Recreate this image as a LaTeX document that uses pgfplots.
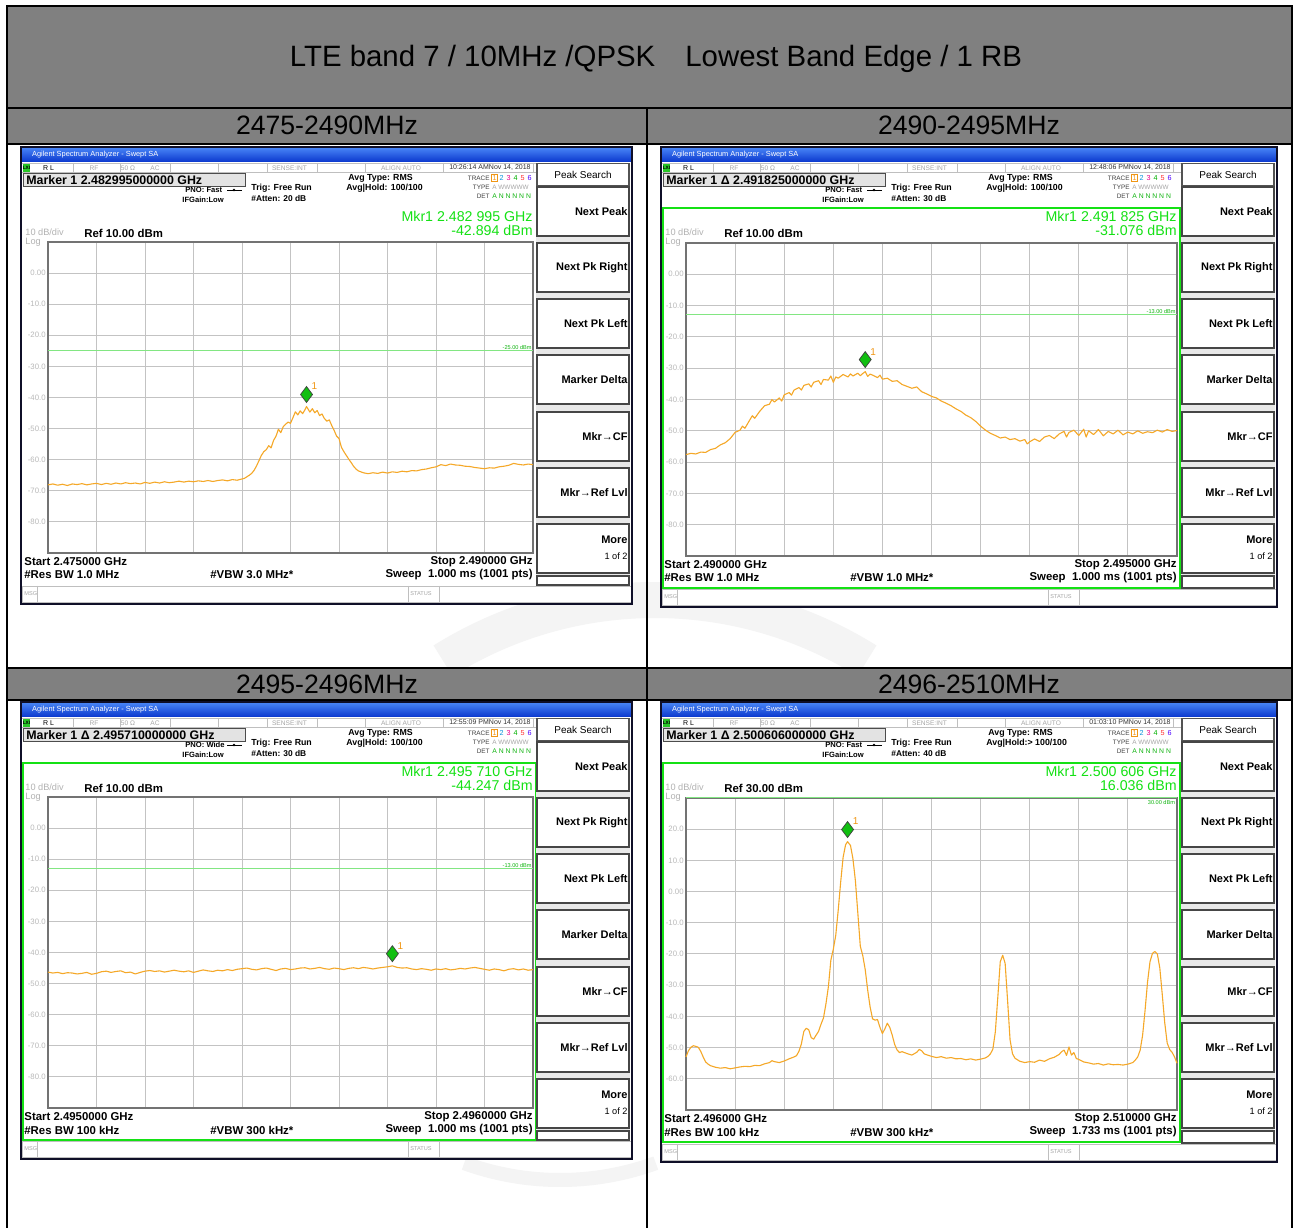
\documentclass[border=0pt]{standalone}
\usepackage{fontspec}
\setmainfont{Liberation Sans}
\usepackage{pgfplots}
\pgfplotsset{compat=1.18}
\definecolor{hdr}{RGB}{128,128,128}
\definecolor{barA}{RGB}{70,130,245}
\definecolor{barB}{RGB}{10,55,205}
\definecolor{frmc}{RGB}{15,15,40}
\definecolor{lxig}{RGB}{40,200,40}
\definecolor{mkrg}{RGB}{20,225,20}
\definecolor{limc}{RGB}{130,230,130}
\definecolor{trc}{RGB}{245,168,40}
\definecolor{mko}{RGB}{240,150,20}
\definecolor{gridc}{RGB}{195,195,195}
\definecolor{boxc}{RGB}{115,115,115}
\definecolor{wmk}{RGB}{244,244,244}
\newcommand{\fs}[1]{\fontsize{#1pt}{#1pt}\selectfont}

\newcommand{\screen}[7]{%
\begin{scope}[shift={(#1,-#2)}]
\fill[white] (0,0) rectangle (#3,-#4);
\shade[top color=barA,bottom color=barB] (1,-1) rectangle ({#3-1},-15);
\node[anchor=west,text=white,font=\fs{3.7}] at (4,-8) {Agilent Spectrum Analyzer - Swept SA};
% status row
\draw[line width=0.25pt,draw=gray!50] (1,-16) -- ({#3-96},-16);
\draw[line width=0.25pt,draw=gray!50] (1,-25.5) -- ({#3-96},-25.5);
\foreach \sx in {52,99,149,197,246,296,344,422,512}{\draw[line width=0.25pt,draw=gray!50] (\sx,-16) -- (\sx,-25.5);}
\fill[lxig] (2,-16.8) rectangle (9,-24.8);
\node[font=\fs{2.4}\bfseries] at (5.5,-20.8) {LXI};
\node[anchor=west,font=\fs{3.5}] at (15,-20.8) {R L};
\node[font=\fs{3.3},text=gray!70] at (73,-20.8) {RF};
\node[font=\fs{3.3},text=gray!70] at (107,-20.8) {50 Ω};
\node[font=\fs{3.3},text=gray!70] at (134,-20.8) {AC};
\node[anchor=east,font=\fs{3.3},text=gray!70] at (293,-20.8) {SENSE:INT};
\node[anchor=east,font=\fs{3.3},text=gray!70] at (407,-20.8) {ALIGN AUTO};
\node[anchor=east,font=\fs{3.5},text=black!80,inner sep=0.5pt] at (511,-20.8) {\sTime};
% marker box
\draw[fill=gray!22,draw=gray!60!black,line width=0.4pt] (2,-26.5) rectangle (224,-39);
\node[anchor=west,font=\bfseries\fs{6.2},inner sep=1pt] at (3,-32.8) {\sMarker};
\node[anchor=west,font=\bfseries\fs{3.8},inner sep=0pt] at (164,-43) {\sPNO};
\draw[line width=0.4pt] (206,-43) -- (221,-43);
\fill (213,-43) circle (1.3);
\node[anchor=west,font=\bfseries\fs{3.8},inner sep=0pt] at (161,-53) {IFGain:Low};
\node[anchor=west,font=\bfseries\fs{4.4},inner sep=0pt] at (230,-41) {Trig: Free Run};
\node[anchor=west,font=\bfseries\fs{4.2},inner sep=0pt] at (230,-52) {\sAtten};
\node[anchor=west,font=\bfseries\fs{4.4},inner sep=0pt] at (327,-31) {Avg Type: RMS};
\node[anchor=west,font=\bfseries\fs{4.4},inner sep=0pt] at (325,-41) {\sHold};
% trace table
\node[anchor=east,font=\fs{3.2},text=black!75,inner sep=0pt] at (469,-31) {TRACE};
\node[anchor=east,font=\fs{3.2},text=black!75,inner sep=0pt] at (469,-40) {TYPE};
\node[anchor=east,font=\fs{3.2},text=black!75,inner sep=0pt] at (469,-49) {DET};
\draw[draw=mko,line width=0.3pt] (470.5,-27.5) rectangle (476.5,-34.5);
\node[font=\fs{3.6},text=mko,inner sep=0pt] at (473.5,-31) {1};
\node[font=\fs{3.6},text=cyan!80!blue,inner sep=0pt] at (480.5,-31) {2};
\node[font=\fs{3.6},text=magenta,inner sep=0pt] at (487.5,-31) {3};
\node[font=\fs{3.6},text=green!70!black,inner sep=0pt] at (494.5,-31) {4};
\node[font=\fs{3.6},text=red!80,inner sep=0pt] at (501.5,-31) {5};
\node[font=\fs{3.6},text=blue!70!magenta,inner sep=0pt] at (508.5,-31) {6};
\node[anchor=west,font=\fs{3.2},text=gray!70,inner sep=0pt] at (471,-40) {A WWWWW};
\node[anchor=west,font=\fs{3.4},text=mkrg!80!black,inner sep=0pt] at (471,-49) {A N N N N N};
% marker readout
\node[anchor=east,font=\fs{7.1},text=mkrg,inner sep=0pt] at (#5,-69) {\sMkrF};
\node[anchor=east,font=\fs{7.1},text=mkrg,inner sep=0pt] at (#5,-83) {\sMkrV};
\node[anchor=west,font=\fs{4.6},text=gray!60,inner sep=0pt] at (4,-85) {10 dB/div};
\node[anchor=west,font=\fs{4.6},text=gray!60,inner sep=0pt] at (4,-95) {Log};
\node[anchor=west,font=\bfseries\fs{5.7},inner sep=0pt] at (63,-86) {\sRef};
% bottom text
\node[anchor=west,font=\bfseries\fs{5.7},inner sep=0pt] at (3,{-#6-9}) {\sStart};
\node[anchor=west,font=\bfseries\fs{5.7},inner sep=0pt] at (3,{-#6-22}) {\sRBW};
\node[anchor=west,font=\bfseries\fs{5.7},inner sep=0pt] at (189,{-#6-22}) {\sVBW};
\node[anchor=east,font=\bfseries\fs{5.7},inner sep=0pt] at (#5,{-#6-9}) {\sStop};
\node[anchor=east,font=\bfseries\fs{5.7},inner sep=0pt] at (#5,{-#6-22}) {\sSweep};
\ifnum#7=1 \draw[draw=mkrg,line width=1pt] (2,-61) rectangle ({#5+3},{-#6-32});\fi
% msg bar
\draw[fill=white,draw=gray!50,line width=0.3pt] (1,{-#4+18}) rectangle ({#3-1},{-#4+2});
\draw[draw=gray!50,line width=0.3pt] (16,{-#4+18}) -- (16,{-#4+2});
\draw[draw=gray!50,line width=0.3pt] (387,{-#4+18}) -- (387,{-#4+2});
\draw[draw=gray!50,line width=0.3pt] (418,{-#4+18}) -- (418,{-#4+2});
\node[anchor=west,font=\fs{2.8},text=gray!70,inner sep=0pt] at (3,{-#4+10}) {MSG};
\node[anchor=west,font=\fs{2.8},text=gray!70,inner sep=0pt] at (389,{-#4+10}) {STATUS};
% softkeys
\fill[gray!18] ({#3-96},-16) rectangle ({#3-2},{-#4+19});
\draw[fill=white,draw=gray!65!black,line width=0.6pt] ({#3-95},-16.5) rectangle ({#3-3},-39);
\node[font=\fs{5}] at ({#3-49},-27.5) {Peak Search};
\foreach \ya/\yb/\lab in {40/89/Next Peak,96/145/Next Pk Right,152/201/Next Pk Left,208/257/Marker Delta,265/314/Mkr→CF,321/370/Mkr→Ref Lvl}{%
  \draw[fill=white,draw=gray!55!black,line width=0.9pt] ({#3-95},-\ya) rectangle ({#3-3},-\yb);
  \node[anchor=east,font=\bfseries\fs{5.5},inner sep=0pt] at ({#3-4},{-(\ya+\yb)/2}) {\lab};}
\draw[fill=white,draw=gray!55!black,line width=0.9pt] ({#3-95},-377) rectangle ({#3-3},-426);
\node[anchor=east,font=\bfseries\fs{5.5},inner sep=0pt] at ({#3-4},-393) {More};
\node[anchor=east,font=\fs{4.6},inner sep=0pt] at ({#3-4},-409) {1 of 2};
\draw[fill=white,draw=gray!55!black,line width=0.6pt] ({#3-95},-429) rectangle ({#3-3},{-#4+19});
\draw[draw=frmc,line width=1.3pt] (0,0) rectangle (#3,-#4);
\end{scope}}

\pgfplotsset{sa/.style={scale only axis, anchor=south west, xmin=0, xmax=10,
  xtick={0,1,...,10}, xticklabels={}, grid=major,
  major grid style={draw=gridc, line width=0.5pt},
  axis line style={draw=boxc, line width=0.9pt},
  major tick length=0pt, clip=false,
  yticklabel style={font=\fs{3.9}, text=gray!55, inner sep=1pt},
  axis background/.style={fill=white}},
  trace/.style={trc, line width=0.55pt, line join=round},
  mk/.style={only marks, mark=diamond*, mark size=4pt,
    mark options={fill=mkrg!85!black, draw=black!75, line width=0.35pt, yshift=6pt}}}

\begin{document}
\begin{tikzpicture}[x=0.5pt,y=0.5pt]
\fill[white] (0,0) rectangle (1298,-1228);
% faint watermark
\draw[wmk, line width=18pt] (655,-1000) ++(58:400) arc (58:122:400);
\draw[wmk, line width=7pt] (560,-900) ++(250:280) arc (250:290:280);
% table
\fill[hdr] (7,-6) rectangle (1292,-144);
\fill[hdr] (7,-668) rectangle (1292,-700);
\draw[line width=1.3pt] (7,-1228) -- (7,-6) -- (1292,-6) -- (1292,-1228);
\draw[line width=1.3pt] (7,-108) -- (1292,-108);
\draw[line width=1.3pt] (7,-144) -- (1292,-144);
\draw[line width=1.3pt] (7,-668) -- (1292,-668);
\draw[line width=1.3pt] (7,-700) -- (1292,-700);
\draw[line width=1.3pt] (647,-108) -- (647,-1228);
\node[font=\fs{14.7}] at (656,-59) {LTE band 7 / 10MHz /QPSK\hspace{15pt}Lowest Band Edge / 1 RB};
\node[font=\fs{13.3}] at (327,-125) {2475-2490MHz};
\node[font=\fs{13.3}] at (969,-125) {2490-2495MHz};
\node[font=\fs{13.3}] at (327,-684) {2495-2496MHz};
\node[font=\fs{13.3}] at (969,-684) {2496-2510MHz};

% ---------- screen 1 ----------
\def\sTime{10:26:14 AMNov 14, 2018}
\def\sMarker{Marker 1 2.482995000000 GHz}
\def\sPNO{PNO: Fast}
\def\sAtten{\#Atten: 20 dB}
\def\sHold{Avg|Hold: 100/100}
\def\sMkrF{Mkr1 2.482 995 GHz}
\def\sMkrV{-42.894 dBm}
\def\sRef{Ref 10.00 dBm}
\def\sStart{Start 2.475000 GHz}
\def\sStop{Stop 2.490000 GHz}
\def\sRBW{\#Res BW 1.0 MHz}
\def\sVBW{\#VBW 3.0 MHz*}
\def\sSweep{Sweep\ \ 1.000 ms (1001 pts)}
\screen{21}{147}{611}{457}{512}{406}{0}

% ---------- screen 2 ----------
\def\sTime{12:48:06 PMNov 14, 2018}
\def\sMarker{Marker 1 Δ 2.491825000000 GHz}
\def\sPNO{PNO: Fast}
\def\sAtten{\#Atten: 30 dB}
\def\sHold{Avg|Hold: 100/100}
\def\sMkrF{Mkr1 2.491 825 GHz}
\def\sMkrV{-31.076 dBm}
\def\sRef{Ref 10.00 dBm}
\def\sStart{Start 2.490000 GHz}
\def\sStop{Stop 2.495000 GHz}
\def\sRBW{\#Res BW 1.0 MHz}
\def\sVBW{\#VBW 1.0 MHz*}
\def\sSweep{Sweep\ \ 1.000 ms (1001 pts)}
\screen{661}{147}{616}{460}{516}{409}{1}

% ---------- screen 3 ----------
\def\sTime{12:55:09 PMNov 14, 2018}
\def\sMarker{Marker 1 Δ 2.495710000000 GHz}
\def\sPNO{PNO: Wide}
\def\sAtten{\#Atten: 30 dB}
\def\sHold{Avg|Hold: 100/100}
\def\sMkrF{Mkr1 2.495 710 GHz}
\def\sMkrV{-44.247 dBm}
\def\sRef{Ref 10.00 dBm}
\def\sStart{Start 2.4950000 GHz}
\def\sStop{Stop 2.4960000 GHz}
\def\sRBW{\#Res BW 100 kHz}
\def\sVBW{\#VBW 300 kHz*}
\def\sSweep{Sweep\ \ 1.000 ms (1001 pts)}
\screen{21}{702}{611}{457}{512}{406}{1}

% ---------- screen 4 ----------
\def\sTime{01:03:10 PMNov 14, 2018}
\def\sMarker{Marker 1 Δ 2.500606000000 GHz}
\def\sPNO{PNO: Fast}
\def\sAtten{\#Atten: 40 dB}
\def\sHold{Avg|Hold:> 100/100}
\def\sMkrF{Mkr1 2.500 606 GHz}
\def\sMkrV{16.036 dBm}
\def\sRef{Ref 30.00 dBm}
\def\sStart{Start 2.496000 GHz}
\def\sStop{Stop 2.510000 GHz}
\def\sRBW{\#Res BW 100 kHz}
\def\sVBW{\#VBW 300 kHz*}
\def\sSweep{Sweep\ \ 1.733 ms (1001 pts)}
\screen{661}{702}{616}{460}{516}{408}{1}

% ---------- axis 1 ----------
\begin{axis}[sa, at={(24pt,-276.5pt)}, width=242.5pt, height=155.5pt,
  ymin=-90, ymax=10, ytick={-80,-70,...,0},
  yticklabels={-80.0,-70.0,-60.0,-50.0,-40.0,-30.0,-20.0,-10.0,0.00}]
\addplot[limc, line width=0.5pt] coordinates {(0,-25) (10,-25)};
\node[anchor=south east, font=\fs{2.8}, text=mkrg!80!black, inner sep=0.5pt] at (axis cs:10,-25) {-25.00 dBm};
\addplot[trace] table {
0.00 -68.1
0.10 -67.8
0.20 -68.2
0.30 -67.9
0.40 -68.3
0.50 -67.8
0.60 -68.0
0.70 -67.7
0.80 -68.1
0.90 -67.8
1.00 -67.6
1.10 -68.0
1.20 -67.6
1.30 -67.9
1.40 -67.5
1.50 -67.8
1.60 -67.4
1.70 -67.7
1.80 -67.5
1.90 -67.8
2.00 -67.3
2.10 -67.6
2.20 -67.2
2.30 -67.5
2.40 -67.1
2.50 -67.4
2.60 -67.2
2.70 -66.9
2.80 -67.2
2.90 -66.9
3.00 -67.1
3.10 -66.8
3.20 -67.0
3.30 -66.7
3.40 -67.0
3.50 -66.7
3.60 -66.5
3.70 -66.8
3.80 -66.4
3.90 -66.6
4.00 -66.2
4.05 -66.0
4.10 -65.5
4.15 -65.0
4.20 -64.4
4.25 -63.4
4.30 -62.0
4.35 -60.3
4.40 -58.6
4.45 -57.4
4.50 -56.8
4.55 -55.5
4.60 -56.2
4.65 -53.8
4.70 -52.5
4.75 -50.2
4.80 -51.3
4.85 -49.4
4.90 -48.6
4.95 -47.9
5.00 -48.3
5.05 -46.5
5.10 -44.6
5.15 -45.6
5.20 -44.3
5.25 -45.2
5.30 -43.9
5.33 -42.9
5.40 -44.7
5.45 -43.6
5.50 -44.9
5.55 -44.2
5.60 -45.8
5.65 -45.3
5.70 -46.8
5.75 -47.6
5.80 -47.2
5.85 -49.0
5.90 -50.6
5.95 -52.4
6.00 -53.2
6.05 -56.0
6.10 -57.4
6.15 -58.6
6.20 -59.8
6.25 -60.9
6.30 -62.1
6.35 -63.0
6.40 -63.6
6.50 -64.2
6.60 -64.5
6.70 -64.2
6.80 -64.4
6.90 -64.0
7.00 -64.3
7.10 -63.9
7.20 -64.1
7.30 -63.7
7.40 -63.9
7.50 -63.5
7.60 -63.6
7.70 -63.2
7.80 -63.0
7.90 -62.6
8.00 -62.3
8.10 -61.6
8.20 -61.9
8.30 -61.4
8.40 -61.7
8.50 -61.8
8.60 -62.1
8.70 -62.2
8.80 -62.5
8.90 -62.7
9.00 -62.9
9.10 -62.6
9.20 -62.7
9.30 -62.3
9.40 -62.1
9.50 -61.8
9.60 -61.2
9.70 -61.5
9.80 -61.7
9.90 -61.4
10.00 -61.6
};
\addplot[mk] coordinates {(5.33,-42.894)};
\node[font=\fs{5}, text=mko, xshift=4pt, yshift=10pt] at (axis cs:5.33,-42.894) {1};
\end{axis}

% ---------- axis 2 ----------
\begin{axis}[sa, at={(343pt,-278pt)}, width=245.5pt, height=156.5pt,
  ymin=-90, ymax=10, ytick={-80,-70,...,0},
  yticklabels={-80.0,-70.0,-60.0,-50.0,-40.0,-30.0,-20.0,-10.0,0.00}]
\addplot[limc, line width=0.5pt] coordinates {(0,-13) (10,-13)};
\node[anchor=south east, font=\fs{2.8}, text=mkrg!80!black, inner sep=0.5pt] at (axis cs:10,-13) {-13.00 dBm};
\addplot[trace] table {
0.00 -57.6
0.10 -57.2
0.20 -57.4
0.30 -56.8
0.40 -56.9
0.50 -56.0
0.60 -55.6
0.70 -54.5
0.80 -53.8
0.90 -52.5
1.00 -50.5
1.10 -49.8
1.15 -48.5
1.20 -49.2
1.30 -46.5
1.35 -45.2
1.40 -46.0
1.50 -43.8
1.60 -42.0
1.70 -41.5
1.75 -40.0
1.80 -40.8
1.90 -39.5
1.95 -40.5
2.00 -38.5
2.10 -37.8
2.15 -38.6
2.20 -37.0
2.30 -36.2
2.35 -37.0
2.40 -35.5
2.50 -35.0
2.55 -36.0
2.60 -34.5
2.70 -34.0
2.75 -35.2
2.80 -33.6
2.90 -33.8
2.95 -32.5
3.00 -34.5
3.05 -32.8
3.10 -33.2
3.20 -32.0
3.30 -32.8
3.35 -31.8
3.40 -32.5
3.50 -31.6
3.55 -32.4
3.60 -31.7
3.65 -31.1
3.70 -32.6
3.75 -31.9
3.80 -32.2
3.90 -33.0
3.95 -32.2
4.00 -33.5
4.10 -33.2
4.20 -34.2
4.30 -34.0
4.40 -35.2
4.50 -35.8
4.60 -36.4
4.70 -36.0
4.80 -37.5
4.90 -38.2
5.00 -39.0
5.10 -39.5
5.20 -40.5
5.30 -41.2
5.40 -42.0
5.50 -43.0
5.60 -43.8
5.70 -45.0
5.80 -45.8
5.90 -47.0
6.00 -48.5
6.10 -49.8
6.20 -50.8
6.30 -51.5
6.40 -52.3
6.50 -52.0
6.60 -52.8
6.70 -52.5
6.80 -53.3
6.90 -52.8
6.95 -54.2
7.00 -53.5
7.10 -52.6
7.20 -53.4
7.30 -52.0
7.40 -51.5
7.50 -52.5
7.60 -51.0
7.70 -50.2
7.75 -52.0
7.80 -50.5
7.90 -49.8
8.00 -51.5
8.10 -49.5
8.15 -52.0
8.20 -50.0
8.30 -51.2
8.40 -49.6
8.50 -51.6
8.60 -50.2
8.70 -51.0
8.80 -49.8
8.90 -51.3
9.00 -50.4
9.10 -51.0
9.20 -50.0
9.30 -50.8
9.40 -50.3
9.50 -50.6
9.60 -49.8
9.70 -50.4
9.80 -49.6
9.90 -50.2
10.00 -49.9
};
\addplot[mk] coordinates {(3.65,-31.076)};
\node[font=\fs{5}, text=mko, xshift=4pt, yshift=10pt] at (axis cs:3.65,-31.076) {1};
\end{axis}

% ---------- axis 3 ----------
\begin{axis}[sa, at={(24pt,-554pt)}, width=242.5pt, height=155.5pt,
  ymin=-90, ymax=10, ytick={-80,-70,...,0},
  yticklabels={-80.0,-70.0,-60.0,-50.0,-40.0,-30.0,-20.0,-10.0,0.00}]
\addplot[limc, line width=0.5pt] coordinates {(0,-13) (10,-13)};
\node[anchor=south east, font=\fs{2.8}, text=mkrg!80!black, inner sep=0.5pt] at (axis cs:10,-13) {-13.00 dBm};
\addplot[trace] table {
0.0 -46.3
0.1 -46.6
0.2 -46.4
0.3 -46.8
0.4 -46.5
0.5 -46.6
0.6 -46.9
0.7 -46.7
0.8 -46.4
0.9 -47.0
1.0 -46.7
1.1 -46.2
1.2 -46.0
1.3 -46.4
1.4 -46.1
1.5 -45.9
1.6 -46.5
1.7 -46.3
1.8 -46.9
1.9 -46.4
2.0 -46.0
2.1 -45.8
2.2 -46.1
2.3 -45.9
2.4 -46.3
2.5 -46.0
2.6 -45.7
2.7 -46.0
2.8 -46.2
2.9 -45.9
3.0 -46.4
3.1 -46.0
3.2 -45.6
3.3 -45.9
3.4 -46.1
3.5 -45.7
3.6 -45.9
3.7 -45.5
3.8 -45.8
3.9 -45.4
4.0 -45.2
4.1 -45.0
4.2 -45.4
4.3 -45.6
4.4 -45.2
4.5 -45.0
4.6 -45.4
4.7 -45.8
4.8 -45.3
4.9 -45.1
5.0 -45.5
5.1 -45.3
5.2 -45.0
5.3 -44.9
5.4 -45.3
5.5 -45.1
5.6 -44.8
5.7 -45.2
5.8 -45.4
5.9 -45.0
6.0 -45.2
6.1 -45.5
6.2 -45.1
6.3 -44.9
6.4 -45.2
6.5 -44.8
6.6 -45.0
6.7 -45.3
6.8 -45.0
6.9 -44.8
7.0 -44.6
7.1 -44.3
7.2 -44.8
7.3 -45.0
7.4 -44.9
7.5 -45.3
7.6 -45.5
7.7 -45.2
7.8 -45.4
7.9 -45.7
8.0 -45.3
8.1 -45.5
8.2 -45.2
8.3 -45.6
8.4 -45.4
8.5 -45.1
8.6 -45.3
8.7 -45.0
8.8 -44.8
8.9 -45.1
9.0 -45.4
9.1 -45.7
9.2 -45.3
9.3 -45.5
9.4 -45.9
9.5 -45.4
9.6 -45.2
9.7 -45.6
9.8 -45.3
9.9 -45.7
10.0 -45.5
};
\addplot[mk] coordinates {(7.1,-44.247)};
\node[font=\fs{5}, text=mko, xshift=4pt, yshift=10pt] at (axis cs:7.1,-44.247) {1};
\end{axis}

% ---------- axis 4 ----------
\begin{axis}[sa, at={(343pt,-555pt)}, width=245.5pt, height=156pt,
  ymin=-70, ymax=30, ytick={-60,-50,...,20},
  yticklabels={-60.0,-50.0,-40.0,-30.0,-20.0,-10.0,0.00,10.0,20.0}]
\addplot[limc, line width=0.5pt] coordinates {(0,30) (10,30)};
\node[anchor=north east, font=\fs{2.8}, text=mkrg!80!black, inner sep=0.8pt] at (axis cs:10,30) {30.00 dBm};
\addplot[trace] table {
0.00 -53.0
0.05 -51.0
0.10 -49.9
0.15 -49.4
0.20 -49.6
0.25 -49.9
0.30 -51.2
0.35 -53.0
0.40 -54.6
0.45 -55.3
0.50 -55.8
0.60 -56.3
0.70 -56.6
0.80 -56.4
0.90 -56.8
1.00 -56.5
1.10 -56.2
1.20 -56.0
1.30 -56.1
1.40 -55.7
1.50 -55.8
1.60 -55.2
1.70 -54.8
1.75 -54.2
1.80 -54.5
1.90 -54.8
2.00 -54.3
2.10 -53.6
2.20 -53.0
2.25 -52.6
2.30 -51.2
2.35 -48.8
2.40 -44.8
2.45 -43.8
2.50 -44.3
2.55 -46.8
2.60 -47.3
2.65 -46.0
2.70 -44.8
2.75 -42.5
2.80 -40.5
2.85 -36.0
2.90 -30.5
2.95 -22.0
3.00 -18.5
3.05 -14.0
3.10 -6.0
3.15 3.0
3.20 11.0
3.25 15.0
3.29 16.0
3.35 14.8
3.40 10.5
3.45 3.5
3.50 -7.0
3.55 -17.5
3.60 -20.5
3.65 -25.0
3.70 -31.5
3.75 -37.0
3.80 -40.8
3.85 -41.2
3.90 -41.0
3.95 -43.5
4.00 -45.5
4.05 -44.0
4.10 -42.2
4.15 -43.5
4.20 -46.0
4.25 -49.0
4.30 -50.8
4.35 -51.6
4.40 -51.3
4.50 -51.9
4.60 -52.4
4.70 -51.5
4.75 -50.6
4.80 -51.0
4.85 -52.0
4.90 -52.3
5.00 -52.8
5.10 -53.2
5.20 -52.9
5.30 -53.4
5.40 -53.2
5.50 -53.6
5.60 -53.5
5.70 -53.9
5.80 -53.6
5.90 -54.0
6.00 -53.7
6.10 -53.3
6.15 -52.8
6.20 -52.0
6.25 -50.5
6.30 -45.0
6.35 -34.0
6.40 -22.5
6.45 -20.4
6.50 -23.0
6.55 -35.0
6.60 -47.5
6.65 -52.0
6.70 -53.4
6.80 -54.4
6.90 -54.8
7.00 -54.5
7.10 -54.7
7.20 -54.0
7.30 -54.4
7.40 -53.6
7.50 -53.1
7.60 -52.2
7.65 -51.3
7.70 -50.8
7.75 -52.5
7.80 -49.8
7.85 -52.4
7.90 -51.6
7.95 -53.5
8.00 -53.8
8.10 -54.6
8.20 -54.9
8.30 -55.3
8.40 -55.1
8.50 -55.6
8.60 -55.2
8.70 -55.5
8.80 -55.4
8.90 -55.6
9.00 -55.3
9.10 -54.8
9.15 -54.0
9.20 -53.0
9.25 -50.8
9.30 -46.0
9.35 -38.0
9.40 -29.0
9.45 -22.5
9.50 -19.8
9.55 -19.2
9.60 -20.0
9.65 -24.5
9.70 -33.0
9.75 -42.0
9.80 -48.5
9.85 -50.6
9.90 -51.5
9.95 -53.0
10.00 -55.0
};
\addplot[mk] coordinates {(3.29,16.036)};
\node[font=\fs{5}, text=mko, xshift=4pt, yshift=10pt] at (axis cs:3.29,16.036) {1};
\end{axis}
\end{tikzpicture}
\end{document}
